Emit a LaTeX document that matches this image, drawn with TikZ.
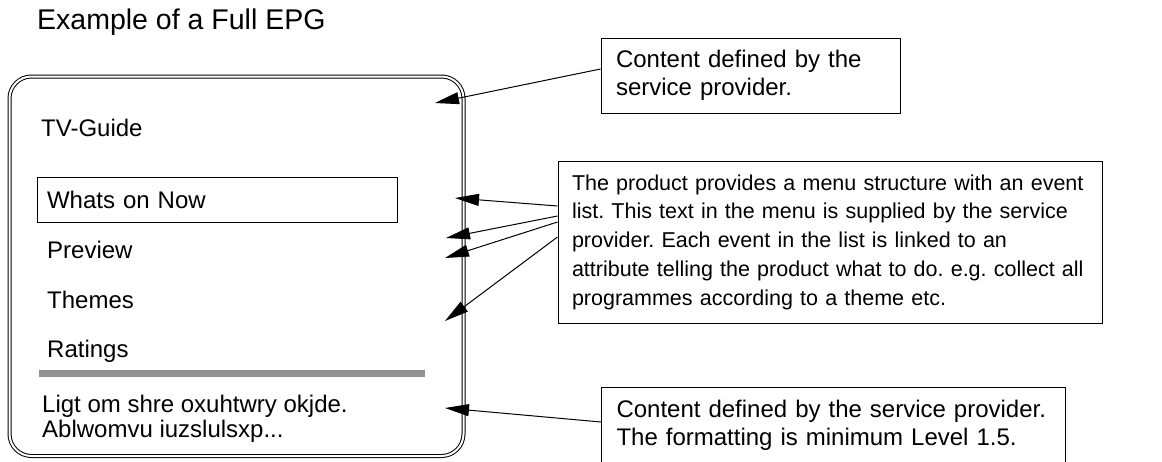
\documentclass[tikz,border=0pt]{standalone}
\usepackage{fontspec}
\setmainfont{Liberation Sans}
\usetikzlibrary{arrows.meta}
\definecolor{bargray}{RGB}{145,145,145}
\frenchspacing

\begin{document}
\begin{tikzpicture}[
  x = 1pt, y = -1pt,
  screen/.style={rectangle, draw, double, double distance=2pt, line width=1pt, rounded corners=22pt,
    minimum width = 454pt, minimum height = 379.5pt},
  item/.style={anchor=base west, inner sep=0pt, font=\fontsize{24}{25}\selectfont},
  item_sel/.style={rectangle, draw, line width=1pt, text width = 340pt, inner xsep=10pt, align=left,
    minimum height = 45pt, font=\fontsize{24}{25}\selectfont},
  note/.style={rectangle, draw, line width=1pt, align=left, inner xsep=15pt,
    font=\fontsize{24}{28}\selectfont},
  line/.style={draw, line width=1pt, -{Triangle[length=24pt, width=12pt]}}
  ]
\path [use as bounding box, clip] (0,0) rectangle (1162,461);

\node [anchor=base west, inner sep=0pt, font=\fontsize{28.5}{30}\selectfont] (title) at (37,29) {Example of a Full EPG};

\node [screen] (screen) at (236.5,266.25) {};
\node [item] (guide) at (41,136) {TV-Guide};
\node [item_sel] (now) at (217,199.5) {Whats on Now};
\node [item] (preview) at (47,258) {Preview};
\node [item] (themes) at (47,308) {Themes};
\node [item] (ratings) at (47,357) {Ratings};
\draw [bargray, line width=7pt] (39,373.5) -- (425,373.5);
\node [item, anchor=north west, align=left] (info) at (42,394.5) {Ligt om shre oxuhtwry okjde.\\Ablwomvu iuzslulsxp...};

\node [note, text width=269pt, minimum height=75pt] (note_top) at (750.5,75.5) {Content defined by the\\service provider.};
\node [note, text width=516pt, inner xsep=14pt, minimum height=162pt, font=\fontsize{21.5}{28.75}\selectfont] (note_menu) at (830,242)
  {The product provides a menu structure with an event\\list. This text in the menu is supplied by the service\\provider. Each event in the list is linked to an\\attribute telling the product what to do. e.g. collect all\\programmes according to a theme etc.};
\node [note, anchor=north west, text width=434pt, inner ysep=12.5pt, text depth=70pt] (note_bottom) at (601,387)
  {Content defined by the service provider.\\The formatting is minimum Level 1.5.};

\coordinate (tip_top) at (435,103);
\coordinate (tip_now) at (455,198);
\coordinate (tip_preview) at (446,238);
\coordinate (tip_preview2) at (445,258);
\coordinate (tip_themes) at (445,321);
\coordinate (tip_info) at (445,408);

\path [line] ([yshift=6.5pt]note_top.west) -- (tip_top);
\path [line] ([yshift=36pt]note_menu.west) -- (tip_now);
\path [line] ([yshift=26pt]note_menu.west) -- (tip_preview);
\path [line] ([yshift=20pt]note_menu.west) -- (tip_preview2);
\path [line] ([yshift=5pt]note_menu.west) -- (tip_themes);
\path [line] ([yshift=-35pt]note_bottom.north west) -- (tip_info);
\end{tikzpicture}
\end{document}
